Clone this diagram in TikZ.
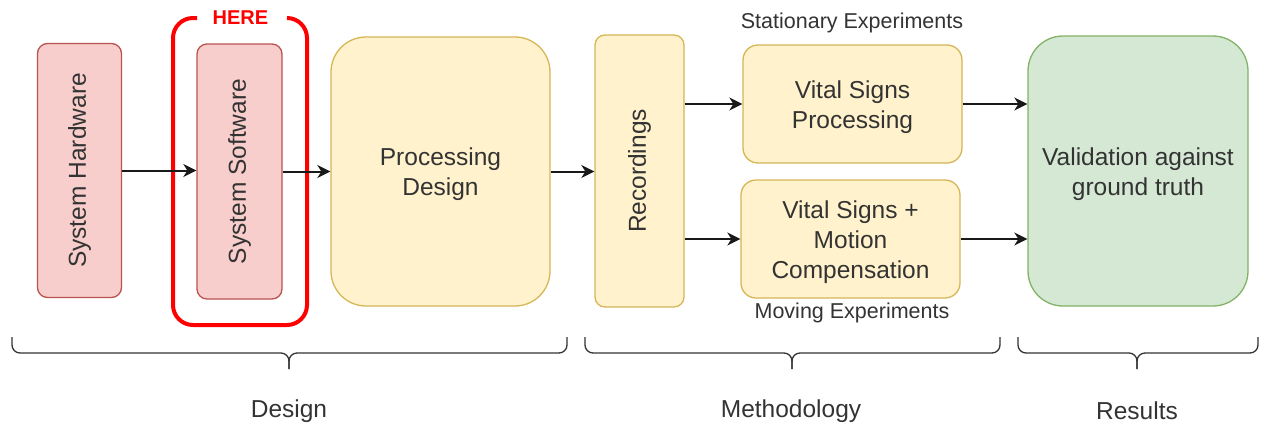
\documentclass[tikz,border=0pt]{standalone}
\usepackage{fontspec}
\setmainfont{Liberation Sans}
\usetikzlibrary{arrows.meta}
\definecolor{txt}{HTML}{333333}
\definecolor{redfill}{HTML}{F8CECC}
\definecolor{redline}{HTML}{B85450}
\definecolor{yelfill}{HTML}{FFF2CC}
\definecolor{yelline}{HTML}{D6B656}
\definecolor{grnfill}{HTML}{D5E8D4}
\definecolor{grnline}{HTML}{82B366}
\definecolor{here}{HTML}{FF0000}
\tikzset{
  block/.style={rectangle, draw, line width=1.3pt, inner sep=0pt, align=center,
    text=txt, font=\fontsize{24.5}{30}\selectfont},
  hwbox/.style={block, fill=redfill, draw=redline, rounded corners=10pt},
  yelbox/.style={block, fill=yelfill, draw=yelline},
  grnbox/.style={block, fill=grnfill, draw=grnline, rounded corners=35pt},
  flow/.style={line width=2pt, black!90, -{Stealth[length=13pt,width=13pt,inset=4pt]}},
  note/.style={text=txt, font=\fontsize{21.5}{26}\selectfont, inner sep=0pt},
  phase/.style={text=txt, font=\fontsize{24.5}{30}\selectfont, inner sep=0pt},
  bracetip/.style={draw=txt, line width=1.3pt, rounded corners=8pt},
}
% multi-line box text, set a little below the geometric centre
\newcommand{\boxlines}[1]{\raisebox{-3pt}[\height][\depth]{\begin{tabular}{@{}c@{}}#1\end{tabular}}}
\begin{document}
\begin{tikzpicture}[x=1pt,y=-1pt]
\useasboundingbox (0,0) rectangle (1262,426);

% design blocks
\node[hwbox, minimum width=84pt, minimum height=254pt] (hw) at (79.5,170.5)
  {\rotatebox{90}{System Hardware}};
\node[hwbox, minimum width=85pt, minimum height=255pt] (sw) at (239.5,171.5)
  {\rotatebox{90}{System Software}};
\node[yelbox, rounded corners=35pt, minimum width=219pt, minimum height=269pt] (pd) at (440.5,171.5)
  {\boxlines{Processing\\Design}};

% highlight around the software block
\draw[here, line width=4pt, rounded corners=20pt]
  (197,18) -| (173,325) -| (307,18) -- (287,18);
\node[text=here, font=\fontsize{20}{24}\selectfont\bfseries, inner sep=0pt] (herelbl) at (240.5,18) {HERE};

% methodology blocks
\node[yelbox, rounded corners=10pt, minimum width=89pt, minimum height=272pt] (rec) at (639.5,171)
  {\rotatebox{90}{Recordings}};
\node[yelbox, rounded corners=15pt, minimum width=219pt, minimum height=118pt] (vsp) at (852.5,104)
  {\boxlines{Vital Signs\\Processing}};
\node[yelbox, rounded corners=15pt, minimum width=219pt, minimum height=118pt] (vsm) at (850.5,239)
  {\boxlines{Vital Signs +\\Motion\\Compensation}};
\node[note] (stat) at (852,23) {Stationary Experiments};
\node[note] (mov) at (852,313) {Moving Experiments};

% results block
\node[grnbox, minimum width=220pt, minimum height=270pt] (val) at (1138,171)
  {\boxlines{Validation against\\ground truth}};

% connectors
\draw[flow] (hw.east) -- (sw.west |- hw.east);
\draw[flow] (sw.east) -- (pd.west |- sw.east);
\draw[flow] (pd.east) -- (rec.west |- pd.east);
\draw[flow] (rec.east |- vsp.west) -- (vsp.west);
\draw[flow] (rec.east |- vsm.west) -- (vsm.west);
\draw[flow] (vsp.east) -- (val.west |- vsp.east);
\draw[flow] (vsm.east) -- (val.west |- vsm.east);

% phase braces
\draw[bracetip] (12,337) |- (289,353) -- (289,369);
\draw[bracetip] (567,337) |- (289,353) -- (289,369);
\draw[bracetip] (585,337) |- (792,353) -- (792,369);
\draw[bracetip] (1000,337) |- (792,353) -- (792,369);
\draw[bracetip] (1018,337) |- (1137,353) -- (1137,369);
\draw[bracetip] (1258,337) |- (1137,353) -- (1137,369);

\node[phase] (design) at (289,411) {Design};
\node[phase] (method) at (791,411) {Methodology};
\node[phase] (results) at (1137,411) {Results};
\end{tikzpicture}
\end{document}
